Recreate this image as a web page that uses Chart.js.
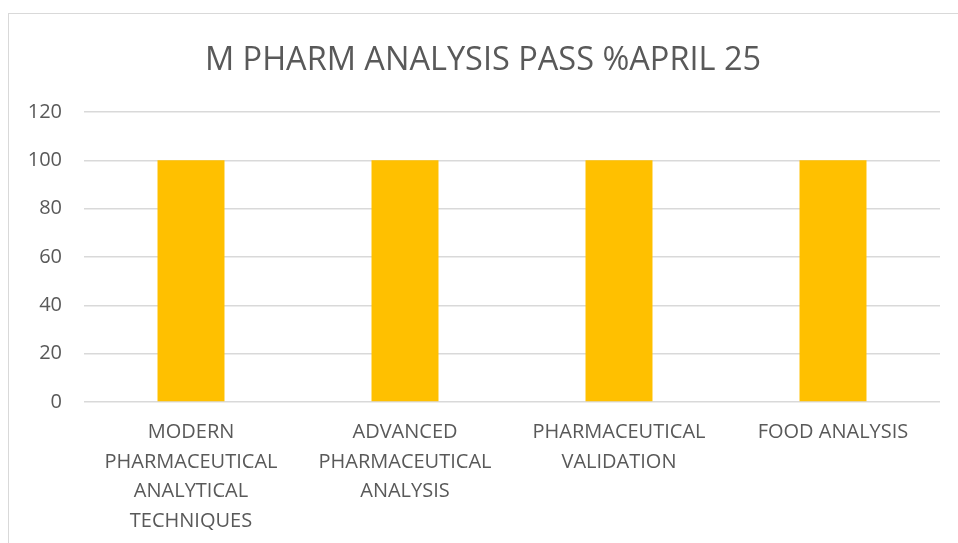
<!DOCTYPE html>
<html>
<head>
<meta charset="utf-8">
<script src="https://cdn.jsdelivr.net/npm/chart.js@4.4.1/dist/chart.umd.min.js"></script>
<style>
html,body{margin:0;padding:0;background:#fff;overflow:hidden;}
#wrap{position:absolute;left:0;top:0;width:958px;height:543px;overflow:hidden;}
#frame{position:absolute;left:8px;top:13px;width:960px;height:560px;border:1.5px solid #d9d9d9;box-sizing:border-box;}
canvas{position:absolute;left:0;top:0;}
</style>
</head>
<body>
<div id="wrap">
<div id="frame"></div>
<canvas id="c" width="958" height="543"></canvas>
</div>
<script>
const chartTitle = "M PHARM ANALYSIS PASS %APRIL 25";
const categories = [
  ["MODERN", "PHARMACEUTICAL", "ANALYTICAL", "TECHNIQUES"],
  ["ADVANCED", "PHARMACEUTICAL", "ANALYSIS"],
  ["PHARMACEUTICAL", "VALIDATION"],
  ["FOOD ANALYSIS"]
];
const passPercent = [100, 100, 100, 100];
const yTicks = [0, 20, 40, 60, 80, 100, 120];

const textColor = "#595959";
const fontFamily = "'Open Sans', 'Noto Sans', sans-serif";

new Chart(document.getElementById("c"), {
  type: "bar",
  data: {
    labels: categories,
    datasets: [{
      label: "Pass %",
      data: passPercent,
      backgroundColor: "#FFC000",
      borderWidth: 0,
      categoryPercentage: 1,
      barPercentage: 0.313
    }]
  },
  options: {
    responsive: false,
    animation: false,
    devicePixelRatio: 1,
    layout: { padding: { left: 26, right: 18, top: 0, bottom: 0 } },
    plugins: {
      legend: { display: false },
      tooltip: { enabled: false },
      title: {
        display: true,
        text: chartTitle,
        color: textColor,
        font: { family: fontFamily, size: 32.5, weight: "normal", lineHeight: 1.2 },
        padding: { top: 41, bottom: 32 }
      }
    },
    scales: {
      x: {
        grid: { display: false, drawTicks: false },
        border: { display: false },
        ticks: {
          color: textColor,
          font: { family: fontFamily, size: 20, lineHeight: 1.475 },
          padding: 16,
          maxRotation: 0,
          autoSkip: false
        },
        afterFit: s => { s.height = 141; }
      },
      y: {
        min: 0,
        max: 120,
        afterBuildTicks: s => { s.ticks = yTicks.map(v => ({ value: v })); },
        grid: { color: "#d9d9d9", lineWidth: 1.5, drawTicks: false },
        border: { display: false },
        ticks: {
          color: textColor,
          font: { family: fontFamily, size: 20 },
          padding: 22
        },
        afterFit: s => { s.width = 58; }
      }
    }
  }
});
</script>
</body>
</html>
